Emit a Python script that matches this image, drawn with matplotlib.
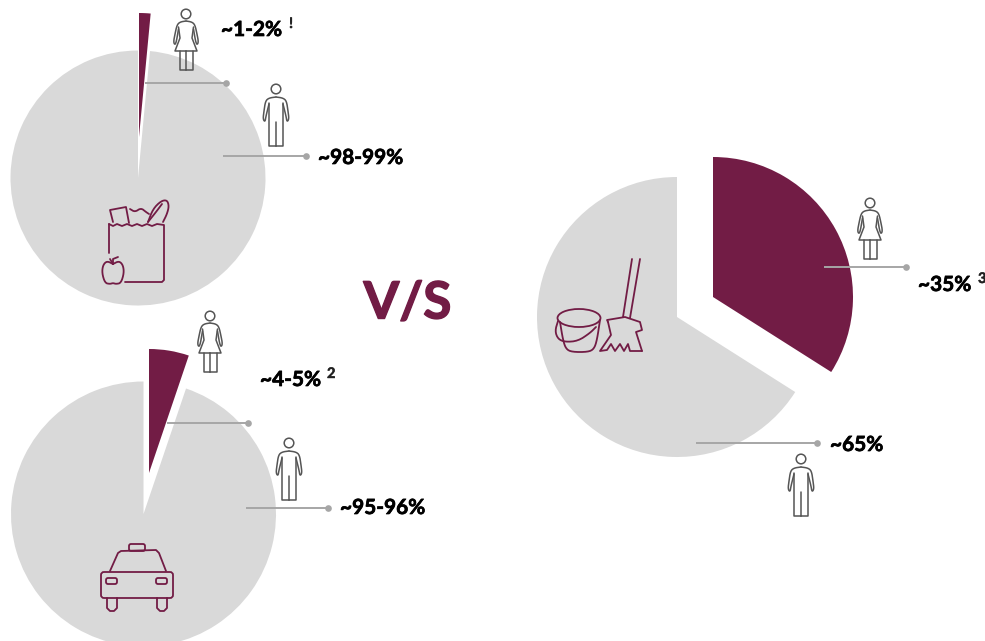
#!/usr/bin/env python3
"""Women vs men share: groceries and taxis against cleaning work."""

import matplotlib
matplotlib.use("Agg")
import matplotlib.patheffects as pe
import matplotlib.pyplot as plt
from matplotlib.patches import Circle, Ellipse, FancyBboxPatch

WIDTH, HEIGHT = 985, 641
MAROON = "#721c45"
GREY = "#d9d9d9"
LEADER = "#a6a6a6"
ICON = "#555555"

# share of women / men in each pie
grocery_shares = [1.5, 98.5]
taxi_shares = [5.2, 94.8]
cleaning_shares = [34, 66]

grocery_labels = ["~1-2%", "~98-99%"]
taxi_labels = ["~4-5%", "~95-96%"]
cleaning_labels = ["~35%", "~65%"]
footnotes = ["!", "2", "3"]

plt.rcParams["font.family"] = ["Lato", "DejaVu Sans"]

fig = plt.figure(figsize=(WIDTH / 100, HEIGHT / 100), dpi=100)
ax = fig.add_axes([0, 0, 1, 1])


def flip(y):
    return HEIGHT - y


def rounder(points, passes=2):
    # corner cutting, keeps the end points
    for _ in range(passes):
        out = [points[0]]
        for a, b in zip(points, points[1:]):
            out.append((0.75 * a[0] + 0.25 * b[0], 0.75 * a[1] + 0.25 * b[1]))
            out.append((0.25 * a[0] + 0.75 * b[0], 0.25 * a[1] + 0.75 * b[1]))
        out.append(points[-1])
        points = out
    return points


def stroke(points, color=MAROON, lw=1.3, smooth=False):
    if smooth:
        points = rounder(points)
    xs = [p[0] for p in points]
    ys = [flip(p[1]) for p in points]
    ax.plot(xs, ys, color=color, lw=lw, solid_capstyle="round", solid_joinstyle="round", zorder=5)


def draw_pie(shares, grey_center, grey_radius, maroon_center, maroon_radius):
    # the two parts sit on different centres, so each gets its own pie call
    ax.pie(shares, colors=["none", GREY], startangle=90, counterclock=False,
           center=(grey_center[0], flip(grey_center[1])), radius=grey_radius,
           wedgeprops={"linewidth": 0})
    ax.pie(shares, colors=[MAROON, "none"], startangle=90, counterclock=False,
           center=(maroon_center[0], flip(maroon_center[1])), radius=maroon_radius,
           wedgeprops={"linewidth": 0})


def leader(x0, x1, y):
    ax.plot([x0, x1], [flip(y), flip(y)], color=LEADER, lw=1.4, solid_capstyle="butt", zorder=4)
    ax.plot([x1], [flip(y)], "o", color=LEADER, ms=4.8, mew=0, zorder=4)


def label(x, y, text):
    ax.text(x, flip(y), text, fontsize=15, fontweight="bold", color="black", ha="left", va="center",
            path_effects=[pe.withStroke(linewidth=0.5, foreground="black")])


def footnote(x, y, text):
    ax.text(x, flip(y), text, fontsize=10.5, fontweight="bold", color="#222222", ha="left", va="center",
            path_effects=[pe.withStroke(linewidth=0.3, foreground="#222222")])


def woman(cx, top):
    """Outline figure; cx is the head centre, top the head centre height."""
    ax.add_patch(Circle((cx, flip(top)), 4.8, fill=False, ec=ICON, lw=1.1, zorder=5))
    for s in (-1, 1):
        stroke([(cx + s * dx, top + dy) for dx, dy in
                [(0, 7), (-6, 8), (-9, 11), (-11, 20), (-12.5, 28), (-11, 31), (-9.5, 27), (-7.5, 15)]],
               ICON, 1.1, smooth=True)
        stroke([(cx + s * dx, top + dy) for dx, dy in
                [(-7.5, 13), (-6, 24), (-11, 37), (0, 37)]], ICON, 1.1)
        stroke([(cx + s * 6.5, top + 37), (cx + s * 6.5, top + 56), (cx, top + 56)], ICON, 1.1)
    stroke([(cx, top + 37), (cx, top + 56)], ICON, 1.1)


def man(cx, top):
    ax.add_patch(Circle((cx, flip(top)), 4.8, fill=False, ec=ICON, lw=1.1, zorder=5))
    for s in (-1, 1):
        stroke([(cx + s * dx, top + dy) for dx, dy in
                [(0, 8), (-7, 9), (-10.5, 12), (-12, 22), (-13, 30), (-11, 33), (-10, 27), (-7, 15)]],
               ICON, 1.1, smooth=True)
        stroke([(cx + s * 7, top + 14), (cx + s * 7, top + 57), (cx, top + 57)], ICON, 1.1)
    stroke([(cx, top + 33), (cx, top + 57)], ICON, 1.1)


def rounded(x0, y0, x1, y1, pad=2.0, color=MAROON):
    ax.add_patch(FancyBboxPatch((x0 + pad, flip(y1) + pad), x1 - x0 - 2 * pad, y1 - y0 - 2 * pad,
                                boxstyle=f"round,pad={pad}", fill=False, ec=color, lw=1.3, zorder=5))


def grocery_icon():
    stroke([(109, 253), (109, 224)])
    stroke([(109, 224), (113, 226), (117, 224), (122, 226), (127, 224), (132, 226), (137, 224),
            (142, 226), (147, 224), (152, 226), (157, 224), (164, 225), (164, 280), (162, 282), (125, 282)])
    stroke([(113, 222), (110, 210), (126, 207), (129, 223)])
    stroke([(130, 209), (135, 212), (141, 208), (146, 212), (149, 214)], smooth=True)
    stroke([(148, 222), (153, 209), (161, 201), (167, 200), (169, 206), (167, 214), (163, 222)], smooth=True)
    stroke([(148, 222), (156, 212), (162, 204)], smooth=True)
    stroke([(113, 264), (107, 261), (103, 265), (102, 273), (105, 283), (110, 284), (113, 283), (116, 284),
            (121, 283), (124, 273), (123, 265), (119, 261), (113, 264)], smooth=True)
    stroke([(113, 264), (113, 259), (118, 257)])
    stroke([(113, 264), (110, 259)])


def taxi_icon():
    rounded(101, 572, 173, 598, pad=3)
    stroke([(110, 571), (118, 553), (121, 551), (156, 550), (159, 553), (166, 571)])
    rounded(129, 544, 145, 551, pad=2)
    rounded(106, 578, 117, 584, pad=2)
    rounded(156, 578, 167, 584, pad=2)
    stroke([(107, 598), (107, 608), (110, 611), (114, 611), (117, 608), (117, 598)])
    stroke([(157, 598), (157, 608), (160, 611), (164, 611), (167, 608), (167, 598)])


def cleaning_icon():
    ax.add_patch(Ellipse((579, flip(318)), 43, 18, fill=False, ec=MAROON, lw=1.3, zorder=5))
    stroke([(560, 322), (563, 340), (566, 349), (572, 352), (588, 352), (594, 349), (597, 340), (600, 320)], smooth=True)
    stroke([(558, 321), (555, 331), (558, 339), (565, 342), (578, 341), (590, 333), (596, 327)], smooth=True)
    stroke([(632, 259), (623, 317)])
    stroke([(640, 259), (630, 318)])
    stroke([(608, 322), (607, 320), (625, 317), (640, 322), (642, 330), (636, 332), (642, 351)])
    stroke([(608, 322), (611, 335), (600, 351), (607, 350), (611, 344), (615, 351), (620, 344),
            (624, 351), (628, 344), (630, 351), (642, 351)])


draw_pie(grocery_shares, (138, 178), 127.5, (139, 137), 124)
draw_pie(taxi_shares, (143.5, 514), 132.5, (149, 473), 124)
draw_pie(cleaning_shares, (677, 317), 140, (713, 297), 140)

ax.set_xlim(0, WIDTH)
ax.set_ylim(0, HEIGHT)
ax.set_aspect("auto")
ax.axis("off")

leader(145, 226, 83)
leader(223, 306, 156)
leader(167, 248, 423)
leader(246, 328, 508)
leader(824, 906, 267)
leader(696, 817, 443)

label(221, 30, grocery_labels[0])
label(318, 158, grocery_labels[1])
label(260, 380, taxi_labels[0])
label(340, 508, taxi_labels[1])
label(918, 285, cleaning_labels[0])
label(830, 445, cleaning_labels[1])
footnote(289, 24, footnotes[0])
footnote(327, 374, footnotes[1])
footnote(978, 279, footnotes[2])

ax.text(407.5, flip(304), "V/S", fontsize=37, fontweight="bold", color=MAROON, ha="center", va="center",
        path_effects=[pe.withStroke(linewidth=1.0, foreground=MAROON)])

woman(186, 14)
man(276, 89)
woman(210, 316)
man(289, 443)
woman(870, 203)
man(801, 459)

grocery_icon()
taxi_icon()
cleaning_icon()

fig.savefig("out.png", dpi=100, facecolor="white")
